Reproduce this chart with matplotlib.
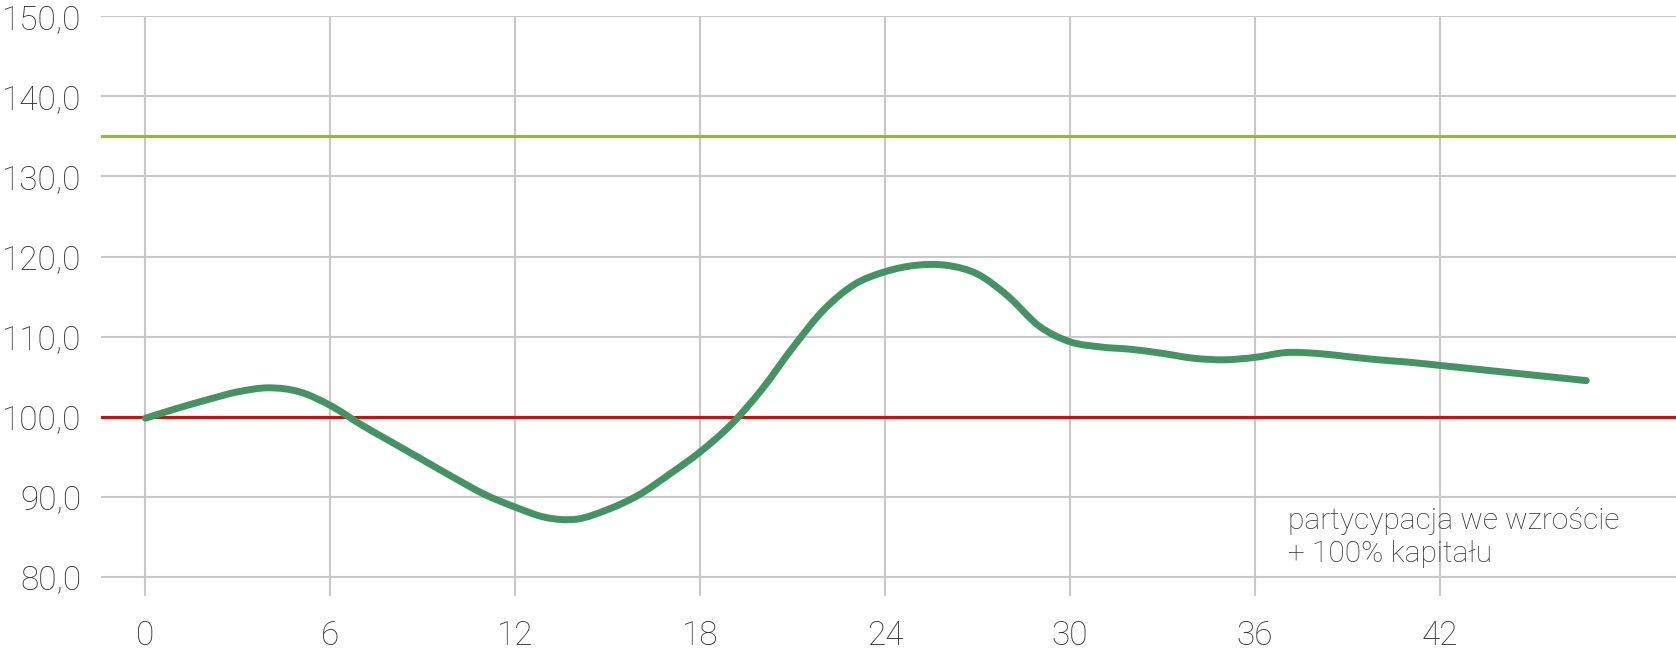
import numpy as np
import matplotlib
matplotlib.use("Agg")
import matplotlib.pyplot as plt
from matplotlib.path import Path
from matplotlib.patches import PathPatch

# month index and portfolio value
months = [0, 1, 2, 3, 4, 5, 6, 7, 8, 9, 10, 11, 12, 13, 14, 15, 16, 17, 18, 19,
          20, 21, 22, 23, 24, 25, 26, 27, 28, 29, 30, 31, 32, 33, 34, 35, 36, 37,
          38, 39, 40, 41, 42, 43, 44, 45, 46, 46.75]
values = [99.8, 101.0, 102.1, 103.1, 103.6, 103.1, 101.4, 99.0, 96.8, 94.6,
          92.4, 90.3, 88.7, 87.4, 87.2, 88.4, 90.2, 92.8, 95.6, 99.0,
          103.4, 108.6, 113.3, 116.5, 118.1, 118.9, 118.9, 117.8, 115.0, 111.3,
          109.35, 108.7, 108.4, 107.9, 107.3, 107.1, 107.4, 108.0, 107.9, 107.5,
          107.1, 106.8, 106.4, 106.0, 105.6, 105.2, 104.8, 104.5]

capital_level = 100.0
upper_level = 135.0

x_ticks = [0, 6, 12, 18, 24, 30, 36, 42]
y_ticks = [80, 90, 100, 110, 120, 130, 140, 150]
annotation = "partycypacja we wzroście\n+ 100% kapitału"

plt.rcParams['font.family'] = ['Roboto', 'DejaVu Sans']


def smooth_path(xs, ys):
    # bezier through the points, same idea as a "smoothed line" in a spreadsheet
    p = np.column_stack([xs, ys]).astype(float)
    n = len(p)
    verts = [p[0]]
    codes = [Path.MOVETO]
    for i in range(n - 1):
        p0 = p[i - 1] if i > 0 else p[i]
        p3 = p[i + 2] if i + 2 < n else p[i + 1]
        c1 = p[i] + (p[i + 1] - p0) / 6
        c2 = p[i + 1] - (p3 - p[i]) / 6
        verts += [c1, c2, p[i + 1]]
        codes += [Path.CURVE4] * 3
    return Path(verts, codes)


fig = plt.figure(figsize=(16.76, 6.59), dpi=100)
ax = fig.add_axes([101 / 1676, 1 - 596 / 659, 1 - 101 / 1676, (596 - 16.3) / 659])

ax.set_xlim(-1.44, 49.66)
ax.set_ylim(77.6, 150)

ax.set_xticks(x_ticks)
ax.set_yticks(y_ticks)
ax.set_yticklabels([f"{v:.1f}".replace(".", ",") for v in y_ticks])
ax.tick_params(axis='both', length=0, labelsize=24, labelcolor='#2e2e2e')
ax.tick_params(axis='y', pad=14)
ax.tick_params(axis='x', pad=17)
for lab in ax.get_xticklabels() + ax.get_yticklabels():
    lab.set_fontweight('light')

ax.grid(True, color='#c8c8c8', linewidth=1.5)
ax.set_axisbelow(True)
for s in ax.spines.values():
    s.set_visible(False)

ax.axhline(upper_level, color='#93b741', linewidth=2.2, zorder=2)
ax.axhline(capital_level, color='#f00000', linewidth=2.2, zorder=2)
curve = PathPatch(smooth_path(months, values), fill=False, edgecolor='#439462',
                  linewidth=5, capstyle='round', joinstyle='round', zorder=3)
ax.add_patch(curve)

fig.text(1288 / 1676, 1 - 507 / 659, annotation, fontsize=21.5, fontweight='light',
         color='#333333', ha='left', va='top', linespacing=1.25)

fig.savefig("out.png", dpi=100, facecolor='white')
